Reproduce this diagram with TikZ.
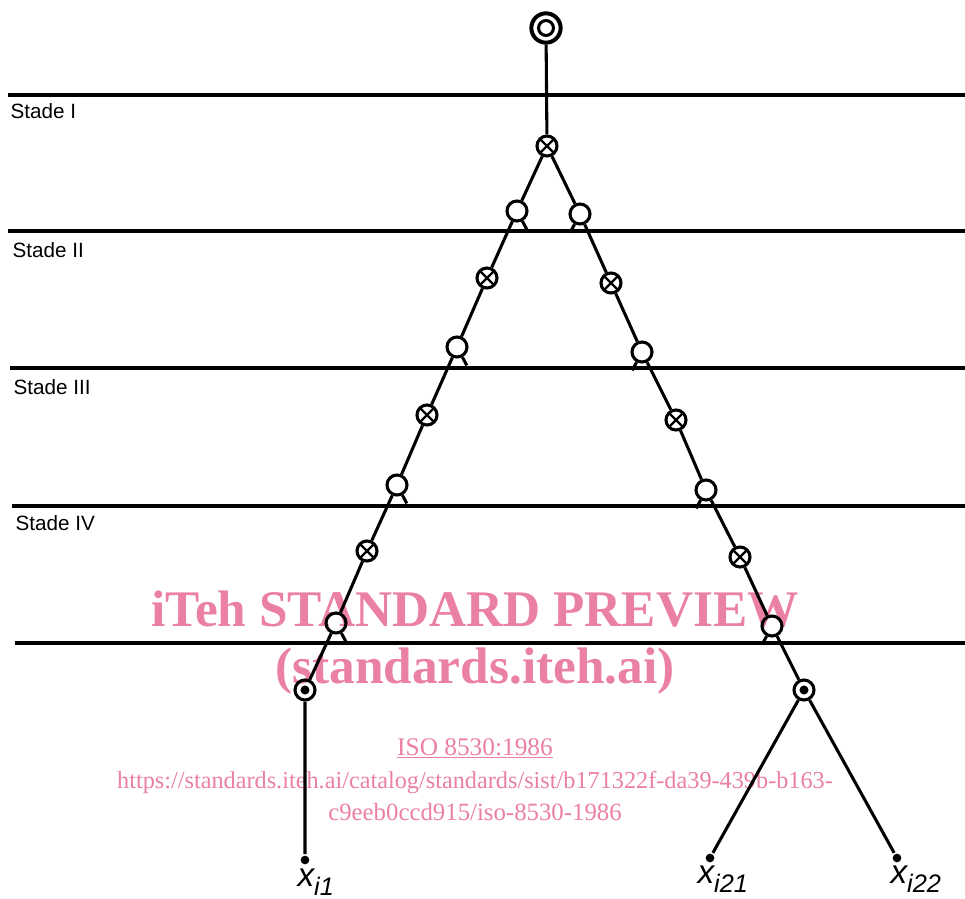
\documentclass[tikz,border=0pt]{standalone}
\usepackage{fontspec}
\setmainfont{Liberation Sans}
\newfontfamily\wmfont{Liberation Serif}
\usepackage{tikz}
\definecolor{wmpink}{RGB}{234,128,162}
\newcommand\xlab[1]{{\fontsize{25}{26}\selectfont\itshape x}\raisebox{-7pt}{\fontsize{19}{20}\selectfont\itshape #1}}

\begin{document}
\begin{tikzpicture}[x=0.75pt,y=-0.75pt,line width=2.3pt,
  topnode/.style={circle,draw,line width=3pt,inner sep=0pt,minimum size=22pt,
    path picture={\draw[line width=2.3pt] (path picture bounding box.center) circle (5.6pt);}},
  opn/.style={circle,draw,inner sep=0pt,minimum size=15pt},
  crs/.style={circle,draw,inner sep=0pt,minimum size=15pt,
    path picture={\draw[line width=1.7pt] (path picture bounding box.north west) -- (path picture bounding box.south east)
      (path picture bounding box.north east) -- (path picture bounding box.south west);}},
  dotnode/.style={circle,draw,inner sep=0pt,minimum size=15pt,
    path picture={\fill (path picture bounding box.center) circle (3.4pt);}},
  leaf/.style={circle,fill,inner sep=0pt,minimum size=6.5pt},
  stade/.style={anchor=west,inner sep=0pt,font=\fontsize{15.5}{17}\selectfont},
  wm/.style={text=wmpink,inner sep=0pt,anchor=base}]
\useasboundingbox (0,0) rectangle (965,899);

% watermark
\node[wm,font=\wmfont\bfseries\fontsize{38.5}{40}\selectfont] (wm1) at (475,626) {iTeh STANDARD PREVIEW};
\node[wm,font=\wmfont\bfseries\fontsize{38.5}{40}\selectfont] (wm2) at (475,683) {(standards.iteh.ai)};
\node[wm,font=\wmfont\fontsize{19}{20}\selectfont] (wm3) at (475,755) {\underline{ISO 8530:1986}};
\node[wm,font=\wmfont\fontsize{18.2}{20}\selectfont] (wm4) at (475,788) {https://standards.iteh.ai/catalog/standards/sist/b171322f-da39-439b-b163-};
\node[wm,font=\wmfont\fontsize{18.6}{20}\selectfont] (wm5) at (475,820) {c9eeb0ccd915/iso-8530-1986};

% stages
\draw[line width=2.4pt] (8,95) -- (965,95);
\node[stade] (s1) at (9,111) {Stade I};
\draw[line width=2.4pt] (8,231) -- (965,231);
\node[stade] (s2) at (11,250) {Stade II};
\draw[line width=2.4pt] (10,368) -- (965,368);
\node[stade] (s3) at (12,387) {Stade III};
\draw[line width=2.4pt] (12,506) -- (965,506);
\node[stade] (s4) at (14,523) {Stade IV};
\draw[line width=2.4pt] (15,643) -- (965,643);

% tree
\node[topnode] (top) at (546,28) {};
\node[crs] (x0) at (547,146) {};

\node[opn] (l1) at (517,211) {};
\node[crs] (l2) at (487,278) {};
\node[opn] (l3) at (457,347) {};
\node[crs] (l4) at (427,415) {};
\node[opn] (l5) at (397,485) {};
\node[crs] (l6) at (367,551) {};
\node[opn] (l7) at (336,623) {};
\node[dotnode] (l8) at (305,690) {};

\node[opn] (r1) at (580,214) {};
\node[crs] (r2) at (611,283) {};
\node[opn] (r3) at (642,352) {};
\node[crs] (r4) at (676,420) {};
\node[opn] (r5) at (706,490) {};
\node[crs] (r6) at (740,557) {};
\node[opn] (r7) at (772,626) {};
\node[dotnode] (r8) at (804,690) {};

\node[leaf] (a) at (305,860) {};
\node[leaf] (b) at (710,858) {};
\node[leaf] (c) at (897,858) {};

\draw (top) -- (x0);
\draw (x0) -- (l1) -- (l2) -- (l3) -- (l4) -- (l5) -- (l6) -- (l7) -- (l8) -- (a);
\draw (x0) -- (r1) -- (r2) -- (r3) -- (r4) -- (r5) -- (r6) -- (r7) -- (r8);
\draw (r8) -- (b);
\draw (r8) -- (c);

% legs
\draw (l1.-62) -- ++(-62:7pt);
\draw (l3.-62) -- ++(-62:7pt);
\draw (l5.-62) -- ++(-62:7pt);
\draw (l7.-62) -- ++(-62:7pt);
\draw (r1.-118) -- ++(-118:7pt);
\draw (r3.-118) -- ++(-118:7pt);
\draw (r5.-118) -- ++(-118:7pt);
\draw (r7.-118) -- ++(-118:7pt);

\node[anchor=base west,inner sep=0pt] (xa) at (296,886) {\xlab{i1}};
\node[anchor=base west,inner sep=0pt] (xb) at (696,883) {\xlab{i21}};
\node[anchor=base west,inner sep=0pt] (xc) at (889,883) {\xlab{i22}};

\end{tikzpicture}
\end{document}
